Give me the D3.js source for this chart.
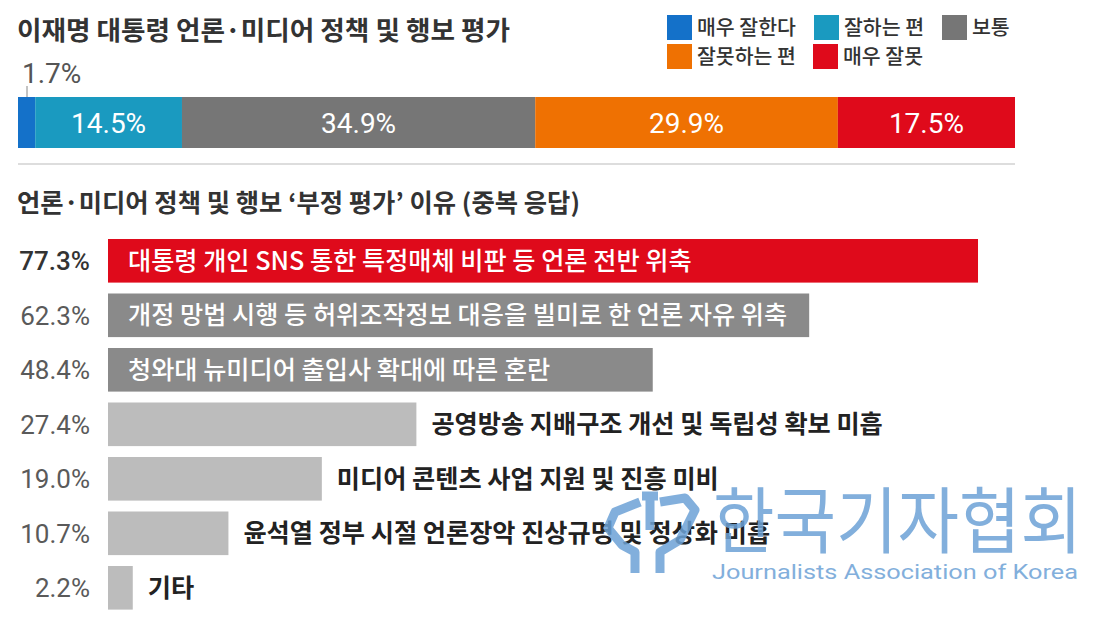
<!DOCTYPE html>
<html>
<head>
<meta charset="utf-8">
<script src="https://cdn.jsdelivr.net/npm/d3@7"></script>
<style>
  body { margin: 0; background: #fff; }
  svg { display: block; }
</style>
</head>
<body>
<svg width="1111" height="619"></svg>
<script>
// top stacked bar: overall rating
var ratingLabels = ["매우 잘한다", "잘하는 편", "보통", "잘못하는 편", "매우 잘못"];
var ratingValues = [1.7, 14.5, 34.9, 29.9, 17.5];
var ratingColors = ["#1471c9", "#1a9ac0", "#767676", "#ef7102", "#df0a1b"];

// bottom bars: reasons for negative rating
var reasonLabels = [
    "대통령 개인 SNS 통한 특정매체 비판 등 언론 전반 위축",
    "개정 망법 시행 등 허위조작정보 대응을 빌미로 한 언론 자유 위축",
    "청와대 뉴미디어 출입사 확대에 따른 혼란",
    "공영방송 지배구조 개선 및 독립성 확보 미흡",
    "미디어 콘텐츠 사업 지원 및 진흥 미비",
    "윤석열 정부 시절 언론장악 진상규명 및 정상화 미흡",
    "기타"
];
var reasonValues = [77.3, 62.3, 48.4, 27.4, 19.0, 10.7, 2.2];

var KR = "'Noto Sans CJK KR', sans-serif",
    NUM = "Roboto, 'Noto Sans', sans-serif";

function main() {
    var svg = d3.select("svg");

    svg.append("rect").attr("width", 1111).attr("height", 619).attr("fill", "#fff");

    // Chart title
    svg.append("text")
       .attr("x", 17)
       .attr("y", 40)
       .attr("font-family", KR)
       .attr("font-size", "26px")
       .attr("font-weight", 700)
       .attr("fill", "#333")
       .attr("textLength", 493)
       .attr("lengthAdjust", "spacingAndGlyphs")
       .text("이재명 대통령 언론·미디어 정책 및 행보 평가");

    // Legend (two rows)
    var legendX = [667, 814, 942, 667, 813],
        legendY = [15, 15, 15, 44, 44];
    var legend = svg.append("g").selectAll("g")
        .data(ratingLabels)
        .enter().append("g")
        .attr("transform", function(d, i) {return "translate(" + legendX[i] + "," + legendY[i] + ")";});
    legend.append("rect")
        .attr("width", 25)
        .attr("height", 25)
        .attr("fill", function(d, i) {return ratingColors[i];});
    legend.append("text")
        .attr("x", 30)
        .attr("y", 12.5)
        .attr("dy", "0.36em")
        .attr("font-family", KR)
        .attr("font-size", "20.5px")
        .attr("font-weight", 500)
        .attr("fill", "#333")
        .text(function(d) {return d;});

    // Stacked bar
    var total = d3.sum(ratingValues),
        ends = Array.from(d3.cumsum(ratingValues));
    var segs = ratingValues.map(function(v, i) {return {label: ratingLabels[i], value: v, x0: ends[i] - v};});

    var xTop = d3.scaleLinear().domain([0, total]).range([18, 1015]);
    var barTop = 97, barH = 51;

    svg.append("g").selectAll("rect")
        .data(segs)
        .enter().append("rect")
        .attr("x", function(d) {return xTop(d.x0);})
        .attr("y", barTop)
        .attr("width", function(d) {return xTop(d.x0 + d.value) - xTop(d.x0);})
        .attr("height", barH)
        .attr("fill", function(d, i) {return ratingColors[i];});

    // labels inside segments (small segment gets its label above)
    svg.append("g").selectAll("text")
        .data(segs.filter(function(d) {return d.value > 5;}))
        .enter().append("text")
        .attr("x", function(d) {return (xTop(d.x0) + xTop(d.x0 + d.value)) / 2;})
        .attr("y", barTop + barH / 2)
        .attr("dy", "0.36em")
        .attr("text-anchor", "middle")
        .attr("font-family", NUM)
        .attr("font-size", "28px")
        .attr("fill", "#fff")
        .text(function(d) {return d.value.toFixed(1) + "%";});

    var small = segs.filter(function(d) {return d.value <= 5;});
    svg.append("g").selectAll("line")
        .data(small)
        .enter().append("line")
        .attr("x1", function(d) {return xTop(d.x0) + 9;})
        .attr("x2", function(d) {return xTop(d.x0) + 9;})
        .attr("y1", barTop - 11)
        .attr("y2", barTop)
        .attr("stroke", "#888")
        .attr("stroke-width", 1);
    svg.append("g").selectAll("text")
        .data(small)
        .enter().append("text")
        .attr("x", function(d) {return xTop(d.x0) + 4;})
        .attr("y", 83)
        .attr("font-family", NUM)
        .attr("font-size", "28px")
        .attr("fill", "#555")
        .text(function(d) {return d.value.toFixed(1) + "%";});

    // divider
    svg.append("line")
       .attr("x1", 18).attr("x2", 1015)
       .attr("y1", 164).attr("y2", 164)
       .attr("stroke", "#ddd")
       .attr("stroke-width", 2);

    // Subtitle
    svg.append("text")
       .attr("x", 17)
       .attr("y", 212)
       .attr("font-family", KR)
       .attr("font-size", "25px")
       .attr("font-weight", 700)
       .attr("fill", "#333")
       .attr("textLength", 563)
       .attr("lengthAdjust", "spacingAndGlyphs")
       .text("언론·미디어 정책 및 행보 ‘부정 평가’ 이유 (중복 응답)");

    // Horizontal bars
    var xScale = d3.scaleLinear().domain([0, 100]).range([108, 1233.5]),
        yScale = d3.scaleBand().domain(reasonLabels).range([239, 609.6]).paddingInner(0.2).paddingOuter(0);
    var maxV = d3.max(reasonValues);
    var rows = reasonLabels.map(function(l, i) {return {label: l, value: reasonValues[i]};});

    function barColor(d) {
        if (d.value === maxV) return "#df0a1b";
        return d.value >= 40 ? "#8a8a8a" : "#bcbcbc";
    }
    function inside(d) {return d.value >= 40;}

    var g = svg.append("g");
    g.selectAll(".bar")
     .data(rows)
     .enter().append("rect")
     .attr("class", "bar")
     .attr("x", xScale(0))
     .attr("y", function(d) {return yScale(d.label);})
     .attr("width", function(d) {return xScale(d.value) - xScale(0);})
     .attr("height", yScale.bandwidth())
     .attr("fill", barColor);

    // value labels on the left
    g.selectAll(".val")
     .data(rows)
     .enter().append("text")
     .attr("class", "val")
     .attr("x", 90)
     .attr("y", function(d) {return yScale(d.label) + yScale.bandwidth() / 2;})
     .attr("dy", "0.36em")
     .attr("text-anchor", "end")
     .attr("font-family", NUM)
     .attr("font-size", "26px")
     .attr("font-weight", function(d) {return d.value === maxV ? 500 : 400;})
     .attr("fill", function(d) {return d.value === maxV ? "#333" : "#5a5a5a";})
     .text(function(d) {return d.value.toFixed(1) + "%";});

    // category labels, inside long bars and after short ones
    g.selectAll(".cat")
     .data(rows)
     .enter().append("text")
     .attr("class", "cat")
     .attr("x", function(d) {return inside(d) ? xScale(0) + 20 : xScale(d.value) + 15;})
     .attr("y", function(d) {return yScale(d.label) + yScale.bandwidth() / 2;})
     .attr("dy", "0.36em")
     .attr("font-family", KR)
     .attr("font-size", "25.2px")
     .attr("font-weight", function(d) {return inside(d) ? 500 : 700;})
     .attr("fill", function(d) {return inside(d) ? "#fff" : "#222";})
     .text(function(d) {return d.label;});

    // watermark
    var wm = svg.append("g").attr("opacity", 0.85);
    wm.append("path")
      .attr("transform", "translate(600,490)")
      .attr("d", "M40,12 L15,22 L8,38 L22,55 L35,62 L35,83 M60,12 L85,8 L95,20 L80,50 L60,62 L60,83 M50,2 L50,40 M42,6 L58,6")
      .attr("fill", "none")
      .attr("stroke", "#6da2d6")
      .attr("stroke-width", 9)
      .attr("stroke-linejoin", "round");
    wm.append("text")
      .attr("x", 713)
      .attr("y", 547)
      .attr("font-family", KR)
      .attr("font-size", "72px")
      .attr("font-weight", 400)
      .attr("fill", "#6da2d6")
      .attr("textLength", 369)
      .attr("lengthAdjust", "spacingAndGlyphs")
      .text("한국기자협회");
    wm.append("text")
      .attr("x", 712)
      .attr("y", 579)
      .attr("font-family", NUM)
      .attr("font-size", "21px")
      .attr("fill", "#6da2d6")
      .attr("textLength", 366)
      .attr("lengthAdjust", "spacingAndGlyphs")
      .text("Journalists Association of Korea");
}

main();
</script>
</body>
</html>
